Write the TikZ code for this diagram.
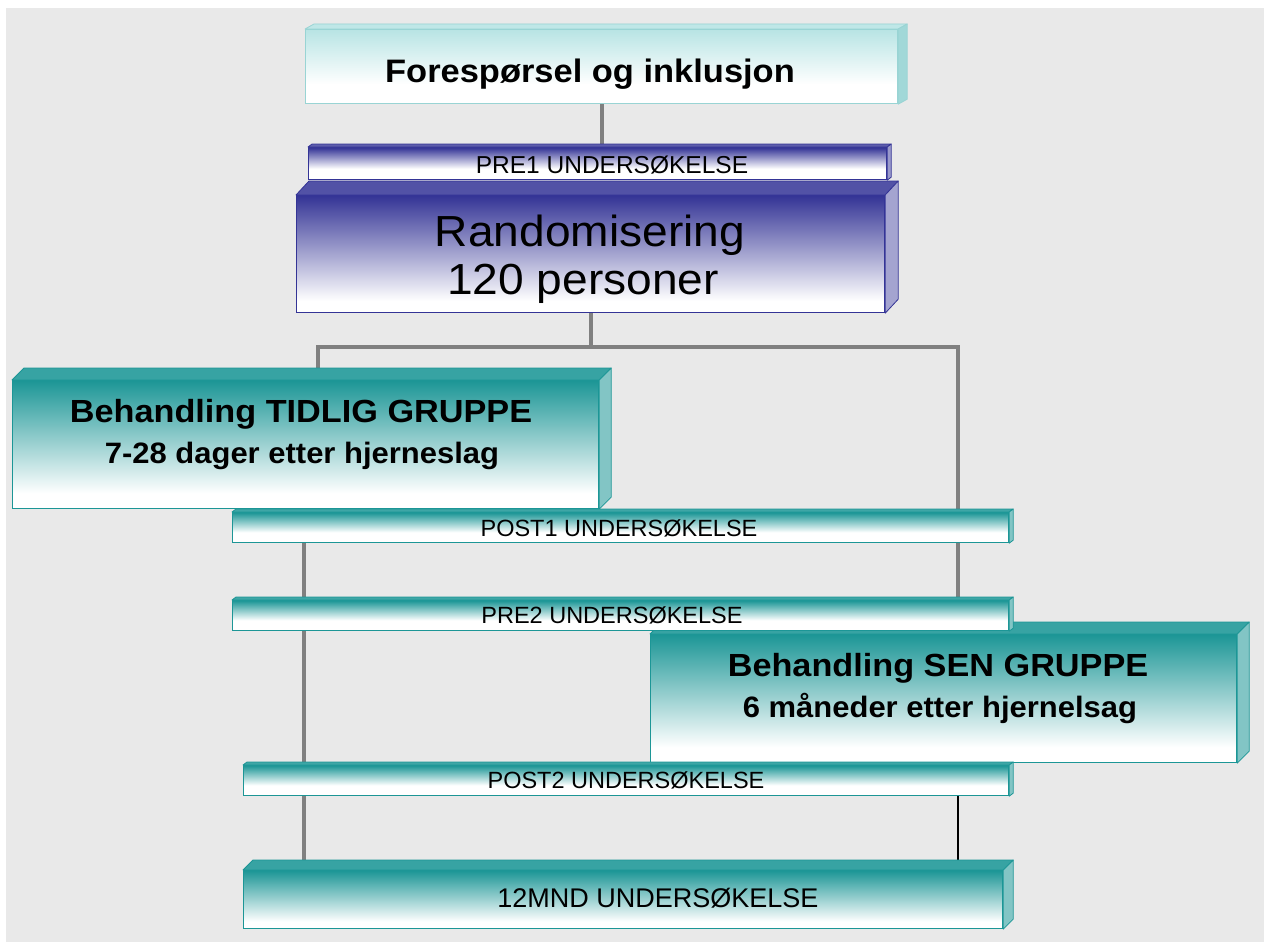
\documentclass[tikz,border=0pt]{standalone}
\usepackage{graphicx}
\usepackage{fontspec}
\setmainfont{Liberation Sans}
\usetikzlibrary{calc}
\definecolor{bgc}{RGB}{233,233,233}
\definecolor{tealc}{RGB}{28,150,150}
\definecolor{bluec}{RGB}{52,52,150}
\definecolor{cyanc}{RGB}{184,228,228}
\definecolor{linec}{RGB}{128,128,128}
\pgfdeclareverticalshading{tealbig}{100bp}{color(0bp)=(white); color(25bp)=(white); color(31bp)=(white); color(75bp)=(tealc); color(100bp)=(tealc)}
\pgfdeclareverticalshading{tealthin}{100bp}{color(0bp)=(white); color(25bp)=(white); color(42bp)=(white); color(75bp)=(tealc); color(100bp)=(tealc)}
\pgfdeclareverticalshading{bluebig}{100bp}{color(0bp)=(white); color(25bp)=(white); color(30bp)=(white); color(75bp)=(bluec); color(100bp)=(bluec)}
\pgfdeclareverticalshading{bluethin}{100bp}{color(0bp)=(white); color(25bp)=(white); color(42bp)=(white); color(75bp)=(bluec); color(100bp)=(bluec)}
\pgfdeclareverticalshading{cyanbig}{100bp}{color(0bp)=(white); color(25bp)=(white); color(38bp)=(white); color(75bp)=(cyanc); color(100bp)=(cyanc)}
\pgfdeclarelayer{back}
\pgfdeclarelayer{conn}
\pgfsetlayers{back,conn,main}
% #1 node, #2 dx, #3 dy, #4 top face colour, #5 side face colour, #6 edge colour
\newcommand{\extrudebox}[6]{%
  \filldraw[fill=#4, draw=#6, line width=0.8pt, line join=round]
    (#1.north west) -- ++(#2,-#3) -- ($(#1.north east)+(#2,-#3)$) -- (#1.north east) -- cycle;
  \filldraw[fill=#5, draw=#6, line width=0.8pt, line join=round]
    (#1.north east) -- ++(#2,-#3) -- ($(#1.south east)+(#2,-#3)$) -- (#1.south east) -- cycle;
}
\newcommand{\wide}[2]{\scalebox{#1}[1]{#2}}
\tikzset{
  front/.style={rectangle, anchor=north west, inner sep=0pt, line width=1.2pt},
  tealbox/.style={front, draw=tealc, shading=tealbig},
  tealbar/.style={front, draw=tealc, shading=tealthin},
  bluebox/.style={front, draw=bluec, shading=bluebig},
  bluebar/.style={front, draw=bluec, shading=bluethin},
  cyanbox/.style={front, draw=cyanc!80!tealc, shading=cyanbig},
  txt/.style={anchor=base, inner sep=0pt, text=black},
  small/.style={txt, font=\fontsize{23.5}{23.5}\selectfont},
  conn/.style={draw=linec, line width=3.8pt},
  thinconn/.style={draw=black, line width=1.2pt},
}
\begin{document}
\begin{tikzpicture}[x=1pt, y=-1pt]
\useasboundingbox (0,0) rectangle (1264,942);
\begin{pgfonlayer}{back}
\fill[white] (0,0) rectangle (1264,942);
\fill[bgc] (6,8) rectangle (1264,942);
\end{pgfonlayer}

% top box
\node[cyanbox, minimum width=592pt, minimum height=74pt] (foresp) at (305,29) {};
\extrudebox{foresp}{9}{5}{cyanc!90!white}{cyanc!85!tealc}{cyanc!80!tealc}
\node[txt, font=\bfseries\fontsize{32.5}{33}\selectfont] (forespt) at (590,83) {\wide{1.06}{Forespørsel og inklusjon}};

% randomisering
\node[bluebox, minimum width=588pt, minimum height=117pt] (rand) at (296,195) {};
\extrudebox{rand}{13}{14}{bluec!85!white}{bluec!45!white}{bluec}
\node[txt, font=\fontsize{43.5}{45}\selectfont] (rand1) at (590,246) {\wide{1.06}{Randomisering}};
\node[txt, font=\fontsize{43.5}{45}\selectfont] (rand2) at (583,294) {\wide{1.06}{120 personer}};

% pre1
\node[bluebar, minimum width=578pt, minimum height=32pt] (pre1) at (308,147) {};
\extrudebox{pre1}{4}{3}{bluec!80!white}{bluec!50!white}{bluec}
\node[small, font=\fontsize{24.5}{24.5}\selectfont] (pre1t) at (612,173) {PRE1 UNDERSØKELSE};

% tidlig
\node[tealbox, minimum width=586pt, minimum height=128pt] (tidlig) at (12,380) {};
\extrudebox{tidlig}{12}{12}{tealc!88!white}{tealc!55!white}{tealc}
\node[txt, font=\bfseries\fontsize{32}{33}\selectfont] (tidlig1) at (301,422) {\wide{1.07}{Behandling TIDLIG GRUPPE}};
\node[txt, font=\bfseries\fontsize{29.5}{30}\selectfont] (tidlig2) at (302,463) {\wide{1.05}{7-28 dager etter hjerneslag}};

% post1
\node[tealbar, minimum width=776pt, minimum height=30pt] (post1) at (232,512) {};
\extrudebox{post1}{4}{3}{tealc!85!white}{tealc!55!white}{tealc}
\node[small] (post1t) at (619,536) {POST1 UNDERSØKELSE};

% sen
\node[tealbox, minimum width=586pt, minimum height=128pt] (sen) at (650,634) {};
\extrudebox{sen}{12}{12}{tealc!88!white}{tealc!55!white}{tealc}
\node[txt, font=\bfseries\fontsize{32}{33}\selectfont] (sen1) at (938,676) {\wide{1.07}{Behandling SEN GRUPPE}};
\node[txt, font=\bfseries\fontsize{29.5}{30}\selectfont] (sen2) at (940,717) {\wide{1.05}{6 måneder etter hjernelsag}};

% pre2
\node[tealbar, minimum width=776pt, minimum height=30pt] (pre2) at (232,600) {};
\extrudebox{pre2}{4}{3}{tealc!85!white}{tealc!55!white}{tealc}
\node[small] (pre2t) at (612,623) {PRE2 UNDERSØKELSE};

% post2
\node[tealbar, minimum width=765pt, minimum height=30pt] (post2) at (243,765) {};
\extrudebox{post2}{4}{3}{tealc!85!white}{tealc!55!white}{tealc}
\node[small] (post2t) at (626,788) {POST2 UNDERSØKELSE};

% 12 mnd
\node[tealbox, minimum width=759pt, minimum height=58pt] (mnd) at (243,870) {};
\extrudebox{mnd}{10}{10}{tealc!88!white}{tealc!55!white}{tealc}
\node[txt, font=\fontsize{27}{27}\selectfont] (mndt) at (658,907) {12MND UNDERSØKELSE};

% connectors
\coordinate (Lt) at (318,347);
\coordinate (Rt) at (958,347);
\coordinate (Lb) at (304,545);
\begin{pgfonlayer}{conn}
\draw[conn] (foresp.south) -- (foresp.south |- pre1.north);
\draw[conn] (rand.south) -- (rand.south |- Lt);
\draw[conn, line cap=rect] (Lt) -- (Rt);
\draw[conn] (Lt) -- (Lt |- tidlig.north);
\draw[conn] (Rt) -- (Rt |- post1.north);
\draw[conn] (post1.south -| Rt) -- (pre2.north -| Rt);
\draw[thinconn] (post2.south -| Rt) -- (mnd.north -| Rt);
\draw[conn] (post1.south -| Lb) -- (pre2.north -| Lb);
\draw[conn] (pre2.south -| Lb) -- (post2.north -| Lb);
\draw[conn] (post2.south -| Lb) -- (mnd.north -| Lb);
\end{pgfonlayer}
\end{tikzpicture}
\end{document}
